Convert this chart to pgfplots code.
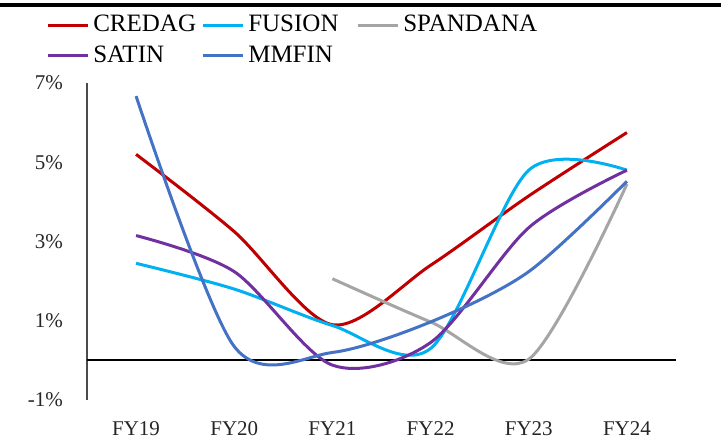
\documentclass[border=0pt]{standalone}
\usepackage{pgfplots}
\pgfplotsset{compat=1.18}
\usepackage{fontspec}
\setmainfont{Liberation Serif}
\definecolor{credag}{RGB}{192,0,0}
\definecolor{fusion}{RGB}{0,176,240}
\definecolor{spandana}{RGB}{165,165,165}
\definecolor{satin}{RGB}{112,48,160}
\definecolor{mmfin}{RGB}{68,114,196}
\begin{document}
\begin{tikzpicture}
\begin{axis}[
  scale only axis,
  width=294.5pt, height=158.5pt,
  xmin=-0.5, xmax=5.5,
  ymin=-1, ymax=7,
  xtick={0,1,2,3,4,5},
  xticklabels={FY19,FY20,FY21,FY22,FY23,FY24},
  ytick={-1,1,3,5,7},
  yticklabel={\pgfmathprintnumber{\tick}\%},
  /pgf/number format/assume math mode=true,
  major tick length=0pt,
  axis lines*=left,
  x axis line style={draw=none},
  y axis line style={draw=black!70, line width=0.6pt, -},
  tick label style={font=\fontsize{10.5pt}{12pt}\selectfont, text=black!85},
  xticklabel style={yshift=-8pt, text height=1.4ex, text depth=0pt},
  yticklabel style={xshift=-8.5pt},
  legend columns=3,
  legend style={draw=none, fill=none, at={(-0.08,1.24)}, anchor=north west,
    font=\fontsize{12.5pt}{14pt}\selectfont, row sep=1.5pt,
    /tikz/every even column/.append style={column sep=0pt}},
  legend cell align=left,
  legend image code/.code={\draw[#1] (0pt,0pt) -- (20pt,0pt);},
  every axis plot/.append style={line width=1.5pt, smooth},
  clip=false,
]
\addplot[black, line width=1pt, forget plot, sharp plot] coordinates {(-0.5,0) (5.5,0)};
\addplot[credag] coordinates {(0,5.2) (1,3.25) (2,0.9) (3,2.4) (4,4.15) (5,5.75)};
\addlegendentry{\makebox[52pt][l]{CREDAG}}
\addplot[fusion] coordinates {(0,2.45) (1,1.8) (2,0.88) (3,0.3) (4,4.8) (5,4.8)};
\addlegendentry{\makebox[52pt][l]{FUSION}}
\addplot[spandana] coordinates {(2,2.06) (3,0.97) (4,0.03) (5,4.45)};
\addlegendentry{\makebox[52pt][l]{SPANDANA}}
\addplot[satin] coordinates {(0,3.15) (1,2.24) (2,-0.12) (3,0.45) (4,3.35) (5,4.8)};
\addlegendentry{\makebox[52pt][l]{SATIN}}
\addplot[mmfin] coordinates {(0,6.67) (1,0.35) (2,0.2) (3,0.97) (4,2.24) (5,4.52)};
\addlegendentry{\makebox[52pt][l]{MMFIN}}
\end{axis}
\draw[black, line width=2pt] (-43.5pt,197.5pt) -- (317pt,197.5pt);
\pgfresetboundingbox
\path (-43.5pt,-23pt) rectangle (317pt,200pt);
\end{tikzpicture}
\end{document}
